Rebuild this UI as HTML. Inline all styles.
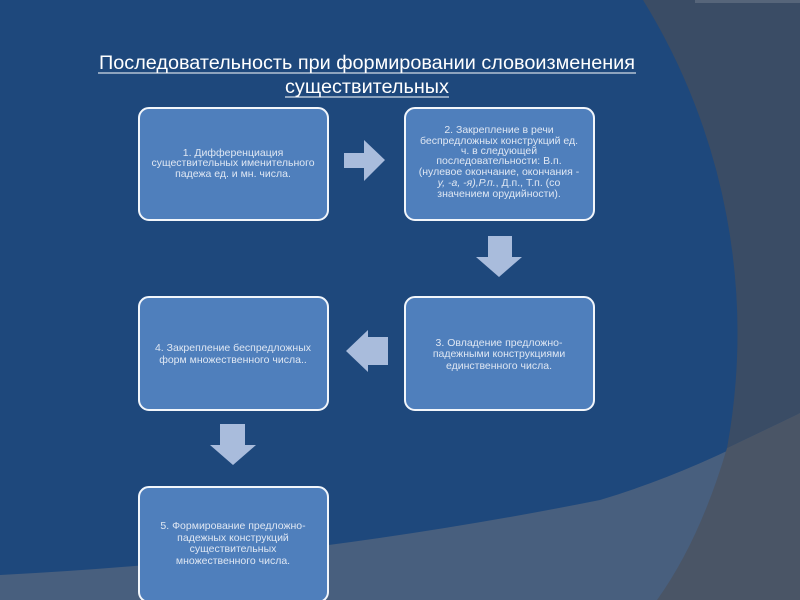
<!DOCTYPE html>
<html><head><meta charset="utf-8"><style>
html,body{margin:0;padding:0;width:800px;height:600px;overflow:hidden;background:#1e487c}
svg{display:block}
text{font-family:"Liberation Sans",sans-serif}
.b{font-size:10.5px;fill:#dfe7f3;text-anchor:middle}
</style></head><body>
<svg width="800" height="600" viewBox="0 0 800 600">
<rect width="800" height="600" fill="#1e487c"/>
<path d="M643,0 A634,634 0 0 1 727,448 L800,413 L800,0 Z" fill="#3a4c65"/>
<path d="M0,575 Q300,560 600,500 Q700,470 800,413 L800,600 L0,600 Z" fill="#485f7e"/>
<path d="M727,448 Q700,540 657,600 L800,600 L800,413 Z" fill="#4a5566"/>
<rect x="695" y="0" width="105" height="3" fill="#56657a"/>
<text x="367" y="69" font-size="19" fill="#fff" text-anchor="middle" textLength="536" lengthAdjust="spacingAndGlyphs">Последовательность при формировании словоизменения</text>
<line x1="98" y1="73" x2="636" y2="73" stroke="#fff" stroke-width="1"/>
<text x="367" y="93" font-size="19" fill="#fff" text-anchor="middle" textLength="164" lengthAdjust="spacingAndGlyphs">существительных</text>
<line x1="285" y1="97" x2="449" y2="97" stroke="#fff" stroke-width="1"/>
<g fill="#4f7fbc" stroke="#f2f6fb" stroke-width="2">
<rect x="139" y="108" width="189" height="112" rx="10"/>
<rect x="405" y="108" width="189" height="112" rx="10"/>
<rect x="139" y="297" width="189" height="113" rx="10"/>
<rect x="405" y="297" width="189" height="113" rx="10"/>
<rect x="139" y="487" width="189" height="115" rx="10"/>
</g>
<g fill="#a9bcdc">
<path d="M344,153 L364,153 L364,140 L385,160 L364,181 L364,168 L344,168 Z"/>
<path d="M488,236 L512,236 L512,257 L522,257 L499,277 L476,257 L488,257 Z"/>
<path d="M388,337 L368,337 L368,330 L346,351 L368,372 L368,365 L388,365 Z"/>
<path d="M220,424 L245,424 L245,445 L256,445 L233,465 L210,445 L220,445 Z"/>
</g>
<g class="b">
<text x="233" y="156">1. Дифференциация</text>
<text x="233" y="166">существительных именительного</text>
<text x="233" y="177">падежа ед.  и мн. числа.</text>
<text x="499" y="133">2. Закрепление в речи</text>
<text x="499" y="144">беспредложных конструкций ед.</text>
<text x="499" y="154">ч. в следующей</text>
<text x="499" y="164">последовательности: В.п.</text>
<text x="499" y="175">(нулевое окончание, окончания -</text>
<text x="499" y="186"><tspan font-style="italic">у, -а, -я),Р.п.</tspan>, Д.п., Т.п. (со</text>
<text x="499" y="197">значением орудийности).</text>
<text x="499" y="346">3. Овладение предложно-</text>
<text x="499" y="357">падежными конструкциями</text>
<text x="499" y="369">единственного числа.</text>
<text x="233" y="351">4. Закрепление беспредложных</text>
<text x="233" y="363">форм множественного числа..</text>
<text x="233" y="529">5. Формирование предложно-</text>
<text x="233" y="541">падежных конструкций</text>
<text x="233" y="552">существительных</text>
<text x="233" y="564">множественного числа.</text>
</g>
</svg>
</body></html>
